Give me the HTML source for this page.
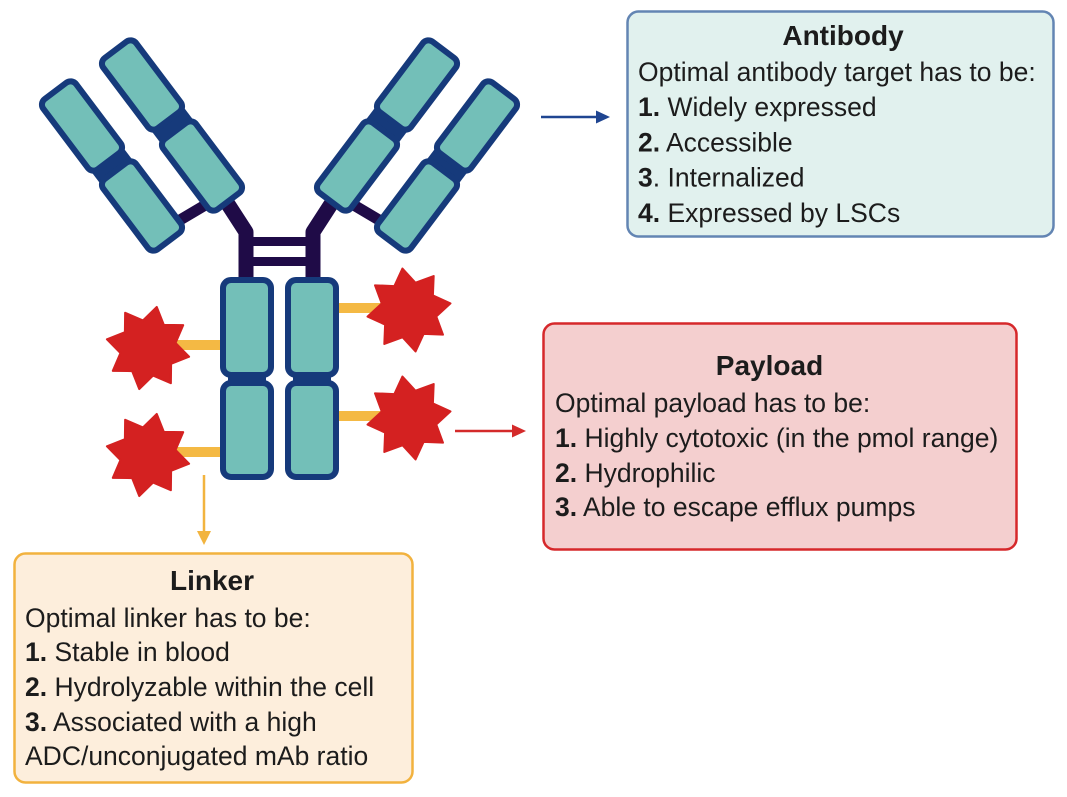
<!DOCTYPE html>
<html>
<head>
<meta charset="utf-8">
<style>
  html,body{margin:0;padding:0;background:#ffffff;}
  svg{display:block;}
  text{font-family:"Liberation Sans",Arial,sans-serif;fill:#1c1c1c;}
  .t{font-weight:bold;font-size:28px;}
  .b{font-size:26.5px;}
</style>
</head>
<body>
<svg width="1067" height="797" viewBox="0 0 1067 797" xmlns="http://www.w3.org/2000/svg">
  <rect x="0" y="0" width="1067" height="797" fill="#ffffff"/>

  <!-- yellow linkers -->
  <g fill="#f4b944">
    <rect x="176" y="340" width="46" height="10"/>
    <rect x="176" y="447" width="46" height="10"/>
    <rect x="337" y="303" width="44" height="10"/>
    <rect x="337" y="411" width="44" height="10"/>
  </g>

  <!-- left half of antibody (Fab arm + hinge) -->
  <g>
    <g stroke="#1f0b47" fill="none" stroke-width="15" stroke-linejoin="round">
      <polyline points="224,198 246,232 246,283"/>
    </g>
    <line x1="180" y1="220" x2="207" y2="204" stroke="#1f0b47" stroke-width="11"/>
    <g fill="#163a7b">
      <rect x="-20" y="-7" width="40" height="14" transform="translate(112,166) rotate(-37)"/>
      <rect x="-20" y="-7" width="40" height="14" transform="translate(172,125) rotate(-37)"/>
    </g>
    <g fill="#73bfb8" stroke="#163a7b" stroke-width="6">
      <rect x="-20.5" y="-44" width="41" height="88" rx="7" transform="translate(82,126) rotate(-37)"/>
      <rect x="-20.5" y="-44" width="41" height="88" rx="7" transform="translate(142,206) rotate(-37)"/>
      <rect x="-20.5" y="-44" width="41" height="88" rx="7" transform="translate(142,85) rotate(-37)"/>
      <rect x="-20.5" y="-44" width="41" height="88" rx="7" transform="translate(202,166) rotate(-37)"/>
    </g>
  </g>
  <!-- mirrored right half -->
  <g transform="translate(559,0) scale(-1,1)">
    <g stroke="#1f0b47" fill="none" stroke-width="15" stroke-linejoin="round">
      <polyline points="224,198 246,232 246,283"/>
    </g>
    <line x1="180" y1="220" x2="207" y2="204" stroke="#1f0b47" stroke-width="11"/>
    <g fill="#163a7b">
      <rect x="-20" y="-7" width="40" height="14" transform="translate(112,166) rotate(-37)"/>
      <rect x="-20" y="-7" width="40" height="14" transform="translate(172,125) rotate(-37)"/>
    </g>
    <g fill="#73bfb8" stroke="#163a7b" stroke-width="6">
      <rect x="-20.5" y="-44" width="41" height="88" rx="7" transform="translate(82,126) rotate(-37)"/>
      <rect x="-20.5" y="-44" width="41" height="88" rx="7" transform="translate(142,206) rotate(-37)"/>
      <rect x="-20.5" y="-44" width="41" height="88" rx="7" transform="translate(142,85) rotate(-37)"/>
      <rect x="-20.5" y="-44" width="41" height="88" rx="7" transform="translate(202,166) rotate(-37)"/>
    </g>
  </g>

  <!-- hinge crossbars -->
  <g fill="#1f0b47">
    <rect x="250" y="237" width="59" height="9"/>
    <rect x="250" y="257" width="59" height="9"/>
  </g>

  <!-- Fc domains -->
  <g fill="#163a7b">
    <rect x="228" y="373" width="38" height="12"/>
    <rect x="293" y="373" width="38" height="12"/>
  </g>
  <g fill="#73bfb8" stroke="#163a7b" stroke-width="6">
    <rect x="223" y="280" width="48" height="95" rx="8"/>
    <rect x="223" y="383" width="48" height="94" rx="8"/>
    <rect x="288" y="280" width="48" height="95" rx="8"/>
    <rect x="288" y="383" width="48" height="94" rx="8"/>
  </g>

  <!-- stars (payload) -->
  <g fill="#d42121" stroke="#d42121" stroke-width="2" stroke-linejoin="round">
    <polygon transform="translate(148,348) rotate(12)" points="0,-42 10.7,-25.9 29.7,-29.7 25.9,-10.7 42,0 25.9,10.7 29.7,29.7 10.7,25.9 0,42 -10.7,25.9 -29.7,29.7 -25.9,10.7 -42,0 -25.9,-10.7 -29.7,-29.7 -10.7,-25.9"/>
    <polygon transform="translate(148,455) rotate(12)" points="0,-42 10.7,-25.9 29.7,-29.7 25.9,-10.7 42,0 25.9,10.7 29.7,29.7 10.7,25.9 0,42 -10.7,25.9 -29.7,29.7 -25.9,10.7 -42,0 -25.9,-10.7 -29.7,-29.7 -10.7,-25.9"/>
    <polygon transform="translate(409,310) rotate(-9)" points="0,-42 10.7,-25.9 29.7,-29.7 25.9,-10.7 42,0 25.9,10.7 29.7,29.7 10.7,25.9 0,42 -10.7,25.9 -29.7,29.7 -25.9,10.7 -42,0 -25.9,-10.7 -29.7,-29.7 -10.7,-25.9"/>
    <polygon transform="translate(409,418) rotate(-9)" points="0,-42 10.7,-25.9 29.7,-29.7 25.9,-10.7 42,0 25.9,10.7 29.7,29.7 10.7,25.9 0,42 -10.7,25.9 -29.7,29.7 -25.9,10.7 -42,0 -25.9,-10.7 -29.7,-29.7 -10.7,-25.9"/>
  </g>

  <!-- arrows -->
  <line x1="541" y1="117" x2="598" y2="117" stroke="#1f4591" stroke-width="2.5"/>
  <polygon points="610,117 596,110.5 596,123.5" fill="#1f4591"/>

  <line x1="455" y1="431" x2="514" y2="431" stroke="#d42a2a" stroke-width="2.5"/>
  <polygon points="526,431 512,424.5 512,437.5" fill="#d42a2a"/>

  <line x1="204" y1="475" x2="204" y2="533" stroke="#f2b43f" stroke-width="2.5"/>
  <polygon points="204,545 197,531 211,531" fill="#f2b43f"/>

  <!-- Antibody box -->
  <rect x="627.5" y="11.5" width="426" height="225" rx="11" fill="#e1f1ee" stroke="#6385b3" stroke-width="2.5"/>
  <text class="t" x="843" y="45" text-anchor="middle">Antibody</text>
  <text class="b" x="638" y="81">Optimal antibody target has to be:</text>
  <text class="b" x="638" y="116"><tspan font-weight="bold">1.</tspan> Widely expressed</text>
  <text class="b" x="638" y="151.5"><tspan font-weight="bold">2.</tspan> Accessible</text>
  <text class="b" x="638" y="186.5"><tspan font-weight="bold">3</tspan>. Internalized</text>
  <text class="b" x="638" y="222"><tspan font-weight="bold">4.</tspan> Expressed by LSCs</text>

  <!-- Payload box -->
  <rect x="543.5" y="323.5" width="473" height="226" rx="11" fill="#f4cfcf" stroke="#d6282b" stroke-width="2.5"/>
  <text class="t" x="769.5" y="375" text-anchor="middle">Payload</text>
  <text class="b" x="555" y="412">Optimal payload has to be:</text>
  <text class="b" x="555" y="447"><tspan font-weight="bold">1.</tspan> Highly cytotoxic (in the pmol range)</text>
  <text class="b" x="555" y="482"><tspan font-weight="bold">2.</tspan> Hydrophilic</text>
  <text class="b" x="555" y="516"><tspan font-weight="bold">3.</tspan> Able to escape efflux pumps</text>

  <!-- Linker box -->
  <rect x="14.5" y="553.5" width="398" height="229" rx="11" fill="#fdeedc" stroke="#f2b23e" stroke-width="2.5"/>
  <text class="t" x="212" y="590" text-anchor="middle">Linker</text>
  <text class="b" x="25" y="627">Optimal linker has to be:</text>
  <text class="b" x="25" y="661"><tspan font-weight="bold">1.</tspan> Stable in blood</text>
  <text class="b" x="25" y="696"><tspan font-weight="bold">2.</tspan> Hydrolyzable within the cell</text>
  <text class="b" x="25" y="731"><tspan font-weight="bold">3.</tspan> Associated with a high</text>
  <text class="b" x="25" y="765">ADC/unconjugated mAb ratio</text>
</svg>
</body>
</html>
